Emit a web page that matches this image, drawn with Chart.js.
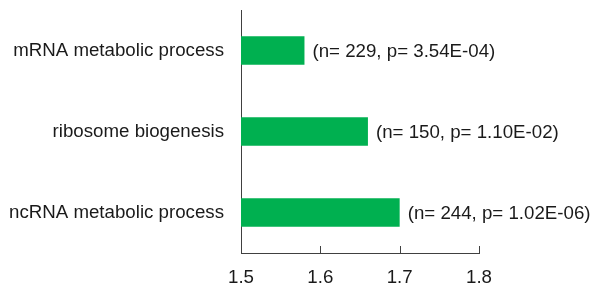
<!DOCTYPE html>
<html>
<head>
<meta charset="utf-8">
<script src="https://cdn.jsdelivr.net/npm/chart.js@4"></script>
<style>
  html, body { margin: 0; padding: 0; background: #fff; }
  #wrap { width: 595px; height: 288px; }
</style>
</head>
<body>
<div id="wrap"><canvas id="myChart" width="595" height="288"></canvas></div>
<script>
// GO terms, fold enrichment, gene counts and p values
var terms = ["mRNA metabolic process", "ribosome biogenesis", "ncRNA metabolic process"];
var enrichment = [1.58, 1.66, 1.70];
var counts = [229, 150, 244];
var pvalues = ["3.54E-04", "1.10E-02", "1.02E-06"];
var xTicks = [1.5, 1.6, 1.7, 1.8];

var barColor = "#00b050";
var axisColor = "#404040";
var textColor = "#1a1a1a";
var font = { family: "Liberation Sans, Arial, sans-serif", size: 18.7 };

// n/p text next to each bar + upward tick marks on the x axis
const extras = {
    id: "extras",
    afterDatasetsDraw(chart) {
        const ctx = chart.ctx;
        const meta = chart.getDatasetMeta(0);
        ctx.save();
        ctx.font = font.size + "px " + font.family;
        ctx.fillStyle = textColor;
        ctx.textAlign = "left";
        ctx.textBaseline = "middle";
        meta.data.forEach((bar, i) => {
            var txt = "(n= " + counts[i] + ", p= " + pvalues[i] + ")";
            ctx.fillText(txt, bar.x + 8, bar.y + 1);
        });
        // tick marks pointing up into the plot
        const xs = chart.scales.x;
        const bottom = chart.chartArea.bottom;
        ctx.strokeStyle = axisColor;
        ctx.lineWidth = 1;
        xTicks.forEach(v => {
            var px = Math.round(xs.getPixelForValue(v)) + 0.5;
            ctx.beginPath();
            ctx.moveTo(px, bottom);
            ctx.lineTo(px, bottom - 7);
            ctx.stroke();
        });
        ctx.restore();
    }
};

new Chart("myChart", {
    type: "bar",
    data: {
        labels: terms,
        datasets: [{
            data: enrichment,
            backgroundColor: barColor,
            borderWidth: 0,
            barPercentage: 0.35,
            categoryPercentage: 1.0
        }]
    },
    options: {
        indexAxis: "y",
        responsive: false,
        animation: false,
        layout: { padding: { top: 10, right: 116, left: 0, bottom: 0 } },
        plugins: {
            legend: { display: false },
            tooltip: { enabled: false }
        },
        scales: {
            x: {
                min: 1.5,
                max: 1.8,
                afterBuildTicks: (scale) => { scale.ticks = xTicks.map(v => ({ value: v })); },
                afterFit: (scale) => {
                    scale.height = 35;
                    scale.paddingLeft = 0;
                    scale.paddingRight = 0;
                },
                grid: { display: false, drawTicks: false },
                border: { display: true, color: axisColor, width: 1 },
                ticks: {
                    color: textColor,
                    font: font,
                    padding: 14,
                    callback: (v) => v.toFixed(1)
                }
            },
            y: {
                afterFit: (scale) => {
                    scale.width = 241;
                    scale.paddingTop = 0;
                    scale.paddingBottom = 0;
                },
                grid: { display: false, drawTicks: false },
                border: { display: true, color: axisColor, width: 1 },
                ticks: {
                    color: textColor,
                    font: font,
                    padding: 17
                }
            }
        }
    },
    plugins: [extras]
});
</script>
</body>
</html>
